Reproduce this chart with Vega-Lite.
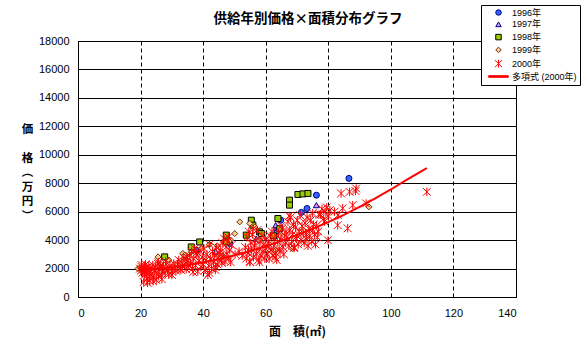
{
  "$schema": "https://vega.github.io/schema/vega-lite/v6.json",
  "autosize": "none",
  "width": 438,
  "height": 256,
  "padding": {"left": 78, "top": 41, "right": 72, "bottom": 66},
  "background": "white",
  "title": {
    "text": "供給年別価格×面積分布グラフ",
    "font": "Noto Sans CJK JP",
    "fontSize": 13.5,
    "fontWeight": "bold",
    "color": "black",
    "anchor": "middle",
    "dx": 11,
    "offset": -21
  },
  "datasets": {
    "pts": [
      {"area": 86.6, "price": 8340, "year": "1996年"},
      {"area": 76.2, "price": 7160, "year": "1996年"},
      {"area": 73.2, "price": 6220, "year": "1996年"},
      {"area": 71.4, "price": 5950, "year": "1996年"},
      {"area": 64.8, "price": 5400, "year": "1996年"},
      {"area": 63.5, "price": 4700, "year": "1996年"},
      {"area": 48.5, "price": 3760, "year": "1996年"},
      {"area": 37.8, "price": 3290, "year": "1996年"},
      {"area": 76.2, "price": 6460, "year": "1997年"},
      {"area": 63.2, "price": 5050, "year": "1997年"},
      {"area": 63.5, "price": 4650, "year": "1997年"},
      {"area": 57.0, "price": 4100, "year": "1997年"},
      {"area": 44.0, "price": 3200, "year": "1997年"},
      {"area": 70.3, "price": 7210, "year": "1998年"},
      {"area": 71.9, "price": 7250, "year": "1998年"},
      {"area": 73.5, "price": 7280, "year": "1998年"},
      {"area": 67.6, "price": 6810, "year": "1998年"},
      {"area": 67.6, "price": 6460, "year": "1998年"},
      {"area": 63.9, "price": 5520, "year": "1998年"},
      {"area": 55.4, "price": 5400, "year": "1998年"},
      {"area": 55.9, "price": 5050, "year": "1998年"},
      {"area": 53.8, "price": 4350, "year": "1998年"},
      {"area": 58.0, "price": 4580, "year": "1998年"},
      {"area": 58.6, "price": 4460, "year": "1998年"},
      {"area": 47.4, "price": 4350, "year": "1998年"},
      {"area": 47.4, "price": 3870, "year": "1998年"},
      {"area": 27.7, "price": 2820, "year": "1998年"},
      {"area": 36.2, "price": 3520, "year": "1998年"},
      {"area": 38.9, "price": 3870, "year": "1998年"},
      {"area": 62.5, "price": 4300, "year": "1998年"},
      {"area": 64.5, "price": 4800, "year": "1998年"},
      {"area": 19.2, "price": 2000, "year": "1999年"},
      {"area": 25.6, "price": 2820, "year": "1999年"},
      {"area": 26.5, "price": 2300, "year": "1999年"},
      {"area": 29.0, "price": 2600, "year": "1999年"},
      {"area": 33.5, "price": 3060, "year": "1999年"},
      {"area": 34.1, "price": 2700, "year": "1999年"},
      {"area": 34.1, "price": 2940, "year": "1999年"},
      {"area": 36.2, "price": 3170, "year": "1999年"},
      {"area": 39.4, "price": 3410, "year": "1999年"},
      {"area": 42.0, "price": 3700, "year": "1999年"},
      {"area": 44.5, "price": 3600, "year": "1999年"},
      {"area": 46.0, "price": 2900, "year": "1999年"},
      {"area": 48.8, "price": 4000, "year": "1999年"},
      {"area": 50.1, "price": 4460, "year": "1999年"},
      {"area": 51.7, "price": 5280, "year": "1999年"},
      {"area": 54.9, "price": 5170, "year": "1999年"},
      {"area": 56.5, "price": 4930, "year": "1999年"},
      {"area": 58.0, "price": 4000, "year": "1999年"},
      {"area": 63.2, "price": 3290, "year": "1999年"},
      {"area": 64.4, "price": 4350, "year": "1999年"},
      {"area": 68.5, "price": 3410, "year": "1999年"},
      {"area": 72.0, "price": 4700, "year": "1999年"},
      {"area": 93.0, "price": 6340, "year": "1999年"},
      {"area": 19.8, "price": 2000, "year": "2000年"},
      {"area": 20.1, "price": 1850, "year": "2000年"},
      {"area": 20.4, "price": 2100, "year": "2000年"},
      {"area": 20.6, "price": 1700, "year": "2000年"},
      {"area": 20.9, "price": 1950, "year": "2000年"},
      {"area": 21.2, "price": 2200, "year": "2000年"},
      {"area": 21.3, "price": 1550, "year": "2000年"},
      {"area": 21.5, "price": 1800, "year": "2000年"},
      {"area": 21.8, "price": 2050, "year": "2000年"},
      {"area": 22.0, "price": 1300, "year": "2000年"},
      {"area": 22.1, "price": 1650, "year": "2000年"},
      {"area": 22.4, "price": 1900, "year": "2000年"},
      {"area": 22.6, "price": 2150, "year": "2000年"},
      {"area": 22.8, "price": 1150, "year": "2000年"},
      {"area": 22.9, "price": 1450, "year": "2000年"},
      {"area": 21.0, "price": 1050, "year": "2000年"},
      {"area": 20.3, "price": 2250, "year": "2000年"},
      {"area": 22.2, "price": 1000, "year": "2000年"},
      {"area": 23.0, "price": 1750, "year": "2000年"},
      {"area": 21.6, "price": 2300, "year": "2000年"},
      {"area": 23.3, "price": 2000, "year": "2000年"},
      {"area": 23.6, "price": 1600, "year": "2000年"},
      {"area": 23.9, "price": 2250, "year": "2000年"},
      {"area": 24.2, "price": 1350, "year": "2000年"},
      {"area": 24.4, "price": 1850, "year": "2000年"},
      {"area": 24.7, "price": 2100, "year": "2000年"},
      {"area": 25.0, "price": 1200, "year": "2000年"},
      {"area": 25.2, "price": 1700, "year": "2000年"},
      {"area": 25.5, "price": 2350, "year": "2000年"},
      {"area": 25.8, "price": 1450, "year": "2000年"},
      {"area": 26.0, "price": 1950, "year": "2000年"},
      {"area": 26.3, "price": 2200, "year": "2000年"},
      {"area": 26.6, "price": 1550, "year": "2000年"},
      {"area": 26.9, "price": 1800, "year": "2000年"},
      {"area": 24.0, "price": 1100, "year": "2000年"},
      {"area": 25.7, "price": 2450, "year": "2000年"},
      {"area": 26.8, "price": 1250, "year": "2000年"},
      {"area": 27.3, "price": 2100, "year": "2000年"},
      {"area": 27.8, "price": 1700, "year": "2000年"},
      {"area": 28.2, "price": 2300, "year": "2000年"},
      {"area": 28.6, "price": 1900, "year": "2000年"},
      {"area": 29.0, "price": 1600, "year": "2000年"},
      {"area": 29.4, "price": 2200, "year": "2000年"},
      {"area": 29.8, "price": 2000, "year": "2000年"},
      {"area": 30.2, "price": 1750, "year": "2000年"},
      {"area": 30.6, "price": 2350, "year": "2000年"},
      {"area": 31.0, "price": 2050, "year": "2000年"},
      {"area": 31.3, "price": 1850, "year": "2000年"},
      {"area": 28.0, "price": 2500, "year": "2000年"},
      {"area": 30.0, "price": 1550, "year": "2000年"},
      {"area": 31.8, "price": 2300, "year": "2000年"},
      {"area": 32.2, "price": 2600, "year": "2000年"},
      {"area": 32.6, "price": 2000, "year": "2000年"},
      {"area": 33.0, "price": 2450, "year": "2000年"},
      {"area": 33.4, "price": 2150, "year": "2000年"},
      {"area": 33.8, "price": 2750, "year": "2000年"},
      {"area": 34.2, "price": 2300, "year": "2000年"},
      {"area": 34.6, "price": 1950, "year": "2000年"},
      {"area": 35.0, "price": 2550, "year": "2000年"},
      {"area": 35.4, "price": 2200, "year": "2000年"},
      {"area": 32.9, "price": 1900, "year": "2000年"},
      {"area": 34.9, "price": 2800, "year": "2000年"},
      {"area": 35.6, "price": 2900, "year": "2000年"},
      {"area": 36.0, "price": 2400, "year": "2000年"},
      {"area": 36.3, "price": 3200, "year": "2000年"},
      {"area": 36.6, "price": 2000, "year": "2000年"},
      {"area": 37.0, "price": 2700, "year": "2000年"},
      {"area": 37.3, "price": 3400, "year": "2000年"},
      {"area": 37.6, "price": 2200, "year": "2000年"},
      {"area": 38.0, "price": 2950, "year": "2000年"},
      {"area": 38.3, "price": 1800, "year": "2000年"},
      {"area": 38.6, "price": 2550, "year": "2000年"},
      {"area": 39.0, "price": 3250, "year": "2000年"},
      {"area": 39.3, "price": 2100, "year": "2000年"},
      {"area": 37.8, "price": 3100, "year": "2000年"},
      {"area": 36.8, "price": 1750, "year": "2000年"},
      {"area": 39.7, "price": 2800, "year": "2000年"},
      {"area": 40.0, "price": 2300, "year": "2000年"},
      {"area": 40.3, "price": 3400, "year": "2000年"},
      {"area": 40.6, "price": 1900, "year": "2000年"},
      {"area": 40.9, "price": 2600, "year": "2000年"},
      {"area": 41.2, "price": 3000, "year": "2000年"},
      {"area": 41.5, "price": 1550, "year": "2000年"},
      {"area": 41.8, "price": 2200, "year": "2000年"},
      {"area": 42.1, "price": 3700, "year": "2000年"},
      {"area": 42.4, "price": 2700, "year": "2000年"},
      {"area": 42.7, "price": 2000, "year": "2000年"},
      {"area": 43.0, "price": 3200, "year": "2000年"},
      {"area": 43.3, "price": 2450, "year": "2000年"},
      {"area": 43.6, "price": 2900, "year": "2000年"},
      {"area": 43.9, "price": 1900, "year": "2000年"},
      {"area": 44.2, "price": 3500, "year": "2000年"},
      {"area": 44.5, "price": 2300, "year": "2000年"},
      {"area": 44.8, "price": 2750, "year": "2000年"},
      {"area": 45.1, "price": 3100, "year": "2000年"},
      {"area": 42.0, "price": 1700, "year": "2000年"},
      {"area": 44.0, "price": 2100, "year": "2000年"},
      {"area": 45.5, "price": 3300, "year": "2000年"},
      {"area": 45.8, "price": 2600, "year": "2000年"},
      {"area": 46.1, "price": 3800, "year": "2000年"},
      {"area": 46.4, "price": 2900, "year": "2000年"},
      {"area": 46.7, "price": 4100, "year": "2000年"},
      {"area": 47.0, "price": 2500, "year": "2000年"},
      {"area": 47.3, "price": 3500, "year": "2000年"},
      {"area": 47.6, "price": 3000, "year": "2000年"},
      {"area": 47.9, "price": 3900, "year": "2000年"},
      {"area": 48.2, "price": 2700, "year": "2000年"},
      {"area": 48.5, "price": 3300, "year": "2000年"},
      {"area": 48.8, "price": 2450, "year": "2000年"},
      {"area": 49.1, "price": 3650, "year": "2000年"},
      {"area": 46.0, "price": 2400, "year": "2000年"},
      {"area": 48.0, "price": 4200, "year": "2000年"},
      {"area": 50.2, "price": 3000, "year": "2000年"},
      {"area": 51.5, "price": 3200, "year": "2000年"},
      {"area": 52.5, "price": 2900, "year": "2000年"},
      {"area": 53.5, "price": 3500, "year": "2000年"},
      {"area": 53.8, "price": 2700, "year": "2000年"},
      {"area": 54.0, "price": 4200, "year": "2000年"},
      {"area": 54.3, "price": 3100, "year": "2000年"},
      {"area": 54.6, "price": 4600, "year": "2000年"},
      {"area": 54.9, "price": 2500, "year": "2000年"},
      {"area": 55.2, "price": 3800, "year": "2000年"},
      {"area": 55.5, "price": 3300, "year": "2000年"},
      {"area": 55.8, "price": 4400, "year": "2000年"},
      {"area": 56.1, "price": 2800, "year": "2000年"},
      {"area": 56.4, "price": 3600, "year": "2000年"},
      {"area": 56.7, "price": 4000, "year": "2000年"},
      {"area": 57.0, "price": 3050, "year": "2000年"},
      {"area": 57.3, "price": 4700, "year": "2000年"},
      {"area": 57.6, "price": 2600, "year": "2000年"},
      {"area": 57.9, "price": 3400, "year": "2000年"},
      {"area": 58.2, "price": 3900, "year": "2000年"},
      {"area": 58.5, "price": 2900, "year": "2000年"},
      {"area": 58.8, "price": 4300, "year": "2000年"},
      {"area": 59.1, "price": 3200, "year": "2000年"},
      {"area": 59.4, "price": 3700, "year": "2000年"},
      {"area": 59.7, "price": 2700, "year": "2000年"},
      {"area": 60.0, "price": 4100, "year": "2000年"},
      {"area": 55.0, "price": 2450, "year": "2000年"},
      {"area": 56.0, "price": 4800, "year": "2000年"},
      {"area": 58.0, "price": 2450, "year": "2000年"},
      {"area": 59.9, "price": 3400, "year": "2000年"},
      {"area": 54.5, "price": 3300, "year": "2000年"},
      {"area": 60.5, "price": 3000, "year": "2000年"},
      {"area": 60.8, "price": 3800, "year": "2000年"},
      {"area": 61.1, "price": 2700, "year": "2000年"},
      {"area": 61.4, "price": 4300, "year": "2000年"},
      {"area": 61.7, "price": 3300, "year": "2000年"},
      {"area": 62.0, "price": 4600, "year": "2000年"},
      {"area": 62.3, "price": 2900, "year": "2000年"},
      {"area": 62.6, "price": 3600, "year": "2000年"},
      {"area": 62.9, "price": 4100, "year": "2000年"},
      {"area": 63.2, "price": 3100, "year": "2000年"},
      {"area": 63.5, "price": 2600, "year": "2000年"},
      {"area": 63.8, "price": 3900, "year": "2000年"},
      {"area": 64.1, "price": 4500, "year": "2000年"},
      {"area": 64.3, "price": 3400, "year": "2000年"},
      {"area": 61.0, "price": 3550, "year": "2000年"},
      {"area": 63.0, "price": 2800, "year": "2000年"},
      {"area": 64.6, "price": 3200, "year": "2000年"},
      {"area": 64.9, "price": 4000, "year": "2000年"},
      {"area": 65.2, "price": 4800, "year": "2000年"},
      {"area": 65.5, "price": 3500, "year": "2000年"},
      {"area": 65.8, "price": 3000, "year": "2000年"},
      {"area": 66.1, "price": 4300, "year": "2000年"},
      {"area": 66.4, "price": 3800, "year": "2000年"},
      {"area": 65.0, "price": 5000, "year": "2000年"},
      {"area": 66.5, "price": 4600, "year": "2000年"},
      {"area": 66.8, "price": 4200, "year": "2000年"},
      {"area": 67.1, "price": 5300, "year": "2000年"},
      {"area": 67.4, "price": 3600, "year": "2000年"},
      {"area": 67.7, "price": 4700, "year": "2000年"},
      {"area": 68.0, "price": 5600, "year": "2000年"},
      {"area": 68.3, "price": 3900, "year": "2000年"},
      {"area": 68.6, "price": 4400, "year": "2000年"},
      {"area": 68.9, "price": 5100, "year": "2000年"},
      {"area": 69.2, "price": 3500, "year": "2000年"},
      {"area": 69.5, "price": 4900, "year": "2000年"},
      {"area": 69.8, "price": 4100, "year": "2000年"},
      {"area": 70.1, "price": 5400, "year": "2000年"},
      {"area": 70.4, "price": 3700, "year": "2000年"},
      {"area": 70.7, "price": 4600, "year": "2000年"},
      {"area": 71.0, "price": 5750, "year": "2000年"},
      {"area": 71.3, "price": 4000, "year": "2000年"},
      {"area": 71.6, "price": 5000, "year": "2000年"},
      {"area": 67.5, "price": 5700, "year": "2000年"},
      {"area": 69.0, "price": 3450, "year": "2000年"},
      {"area": 70.0, "price": 4300, "year": "2000年"},
      {"area": 72.0, "price": 4500, "year": "2000年"},
      {"area": 72.3, "price": 3800, "year": "2000年"},
      {"area": 72.6, "price": 5200, "year": "2000年"},
      {"area": 72.9, "price": 4100, "year": "2000年"},
      {"area": 73.2, "price": 5600, "year": "2000年"},
      {"area": 73.5, "price": 3600, "year": "2000年"},
      {"area": 73.8, "price": 4800, "year": "2000年"},
      {"area": 74.1, "price": 4300, "year": "2000年"},
      {"area": 74.4, "price": 5400, "year": "2000年"},
      {"area": 74.7, "price": 3900, "year": "2000年"},
      {"area": 75.0, "price": 4700, "year": "2000年"},
      {"area": 75.3, "price": 5100, "year": "2000年"},
      {"area": 75.6, "price": 4400, "year": "2000年"},
      {"area": 75.9, "price": 3700, "year": "2000年"},
      {"area": 76.2, "price": 5000, "year": "2000年"},
      {"area": 76.5, "price": 4200, "year": "2000年"},
      {"area": 76.8, "price": 4600, "year": "2000年"},
      {"area": 77.0, "price": 5800, "year": "2000年"},
      {"area": 73.0, "price": 4400, "year": "2000年"},
      {"area": 75.0, "price": 5900, "year": "2000年"},
      {"area": 77.5, "price": 5800, "year": "2000年"},
      {"area": 78.0, "price": 6200, "year": "2000年"},
      {"area": 78.5, "price": 5500, "year": "2000年"},
      {"area": 79.0, "price": 6000, "year": "2000年"},
      {"area": 79.5, "price": 6300, "year": "2000年"},
      {"area": 80.0, "price": 5700, "year": "2000年"},
      {"area": 80.5, "price": 6100, "year": "2000年"},
      {"area": 78.8, "price": 5300, "year": "2000年"},
      {"area": 79.9, "price": 3990, "year": "2000年"},
      {"area": 83.1, "price": 5750, "year": "2000年"},
      {"area": 83.0, "price": 5050, "year": "2000年"},
      {"area": 84.1, "price": 7280, "year": "2000年"},
      {"area": 84.6, "price": 6240, "year": "2000年"},
      {"area": 86.8, "price": 7390, "year": "2000年"},
      {"area": 88.9, "price": 7630, "year": "2000年"},
      {"area": 88.7, "price": 7450, "year": "2000年"},
      {"area": 87.8, "price": 6460, "year": "2000年"},
      {"area": 86.2, "price": 4830, "year": "2000年"},
      {"area": 92.1, "price": 6580, "year": "2000年"},
      {"area": 82.0, "price": 6000, "year": "2000年"},
      {"area": 111.5, "price": 7390, "year": "2000年"}
    ],
    "trend": [
      {"area": 19.5, "price": 1880, "year": "多項式 (2000年)"},
      {"area": 25, "price": 2000, "year": "多項式 (2000年)"},
      {"area": 30, "price": 2100, "year": "多項式 (2000年)"},
      {"area": 35, "price": 2250, "year": "多項式 (2000年)"},
      {"area": 40, "price": 2440, "year": "多項式 (2000年)"},
      {"area": 45, "price": 2650, "year": "多項式 (2000年)"},
      {"area": 50, "price": 2930, "year": "多項式 (2000年)"},
      {"area": 55, "price": 3230, "year": "多項式 (2000年)"},
      {"area": 60, "price": 3570, "year": "多項式 (2000年)"},
      {"area": 65, "price": 3950, "year": "多項式 (2000年)"},
      {"area": 70, "price": 4350, "year": "多項式 (2000年)"},
      {"area": 75, "price": 4800, "year": "多項式 (2000年)"},
      {"area": 80, "price": 5270, "year": "多項式 (2000年)"},
      {"area": 85, "price": 5780, "year": "多項式 (2000年)"},
      {"area": 90, "price": 6340, "year": "多項式 (2000年)"},
      {"area": 95, "price": 6930, "year": "多項式 (2000年)"},
      {"area": 100, "price": 7560, "year": "多項式 (2000年)"},
      {"area": 105, "price": 8230, "year": "多項式 (2000年)"},
      {"area": 111.5, "price": 9060, "year": "多項式 (2000年)"}
    ]
  },
  "encoding": {
    "x": {
      "field": "area",
      "type": "quantitative",
      "scale": {"domain": [0, 140], "nice": false},
      "axis": {
        "values": [0, 20, 40, 60, 80, 100, 120, 140],
        "gridDash": [4, 3],
        "labelPadding": 10,
        "title": "面　積(㎡)",
        "titlePadding": 8
      }
    },
    "y": {
      "field": "price",
      "type": "quantitative",
      "scale": {"domain": [0, 18000], "nice": false},
      "axis": {
        "values": [0, 2000, 4000, 6000, 8000, 10000, 12000, 14000, 16000, 18000],
        "format": "d",
        "labelPadding": 9,
        "title": ["価", "⠀", "格", "︵", "万", "円", "︶"],
        "titleAngle": 0,
        "titleAlign": "center",
        "titleBaseline": "top",
        "titleFontSize": 11.5,
        "titleLineHeight": 14.5,
        "titleX": -51,
        "titleY": 82
      }
    }
  },
  "layer": [
    {
      "data": {"name": "pts"},
      "mark": {"type": "point", "filled": true, "size": 36, "opacity": 1, "strokeWidth": 1},
      "encoding": {
        "fill": {
          "field": "year",
          "type": "nominal",
          "scale": {
            "domain": ["1996年", "1997年", "1998年", "1999年", "2000年", "多項式 (2000年)"],
            "range": ["#3366FF", "#CC99FF", "#99CC00", "#FFCC99", "transparent", "#FF0000"]
          },
          "legend": {
            "title": null,
            "encode": {
              "symbols": {
                "update": {
                  "fill": {"scale": "fill", "field": "value"},
                  "stroke": {"scale": "stroke", "field": "value"},
                  "strokeWidth": {"value": 1},
                  "opacity": {"value": 1}
                }
              }
            }
          }
        },
        "stroke": {
          "field": "year",
          "type": "nominal",
          "scale": {
            "domain": ["1996年", "1997年", "1998年", "1999年", "2000年", "多項式 (2000年)"],
            "range": ["#000080", "#000080", "#000000", "#663300", "#FF0000", "#FF0000"]
          },
          "legend": {"title": null}
        },
        "shape": {
          "field": "year",
          "type": "nominal",
          "scale": {
            "domain": ["1996年", "1997年", "1998年", "1999年", "2000年", "多項式 (2000年)"],
            "range": ["circle", "triangle-up", "square", "diamond", "M-1.3,-1.3L1.3,1.3M-1.3,1.3L1.3,-1.3M0,-1.4L0,1.4", "M-3.6,-0.3L3.6,-0.3L3.6,0.3L-3.6,0.3Z"]
          },
          "legend": {"title": null}
        }
      }
    },
    {
      "data": {"name": "trend"},
      "mark": {"type": "line", "strokeWidth": 2, "color": "#FF0000"},
      "encoding": {
        "stroke": {"field": "year", "type": "nominal", "legend": {"title": null}}
      }
    }
  ],
  "config": {
    "view": {"stroke": "black", "strokeWidth": 1},
    "axis": {
      "domainColor": "black",
      "gridColor": "black",
      "gridOpacity": 1,
      "ticks": false,
      "labelFont": "Liberation Sans",
      "labelFontSize": 11,
      "labelColor": "black",
      "titleFont": "Noto Sans CJK JP",
      "titleFontSize": 12,
      "titleFontWeight": "bold",
      "titleColor": "black"
    },
    "legend": {
      "orient": "none",
      "legendX": 403,
      "legendY": -36,
      "strokeColor": "black",
      "fillColor": "white",
      "padding": 3,
      "rowPadding": 1.8,
      "labelFont": "Liberation Sans, Noto Sans CJK JP",
      "labelFontSize": 9,
      "labelColor": "black",
      "symbolSize": 30,
      "symbolStrokeWidth": 1,
      "symbolOffset": 10,
      "labelOffset": 9
    }
  }
}
